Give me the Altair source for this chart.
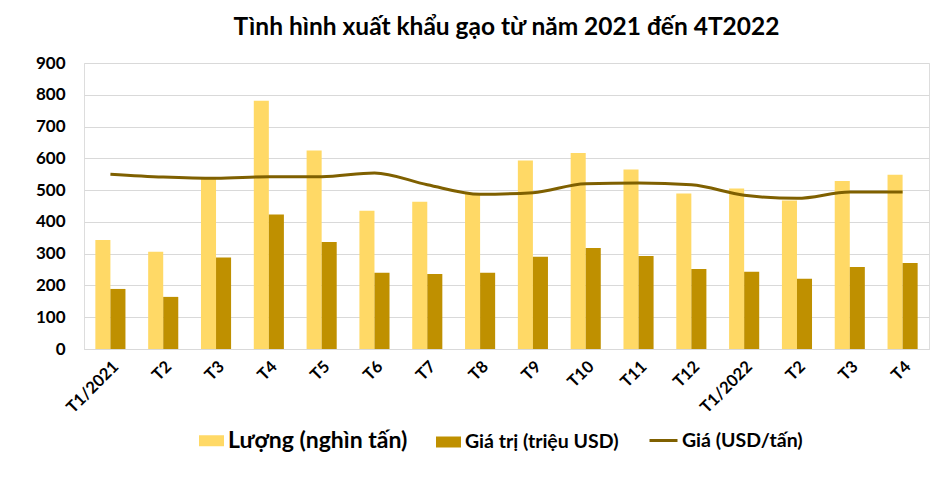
import json
import altair as alt
import pandas as pd

months = ["T1/2021", "T2", "T3", "T4", "T5", "T6", "T7", "T8", "T9", "T10",
          "T11", "T12", "T1/2022", "T2", "T3", "T4"]
luong = [343, 306, 539, 781, 625, 435, 463, 488, 593, 617, 565, 489, 505, 467, 529, 548]
giatri = [189, 164, 288, 423, 337, 240, 236, 240, 290, 318, 293, 252, 243, 221, 258, 271]
gia = [550, 541, 537, 542, 542, 554, 517, 487, 492, 520, 522, 517, 484, 474, 494, 494]
y_ticks = [0, 100, 200, 300, 400, 500, 600, 700, 800, 900]

s_luong = "Lượng (nghìn tấn)"
s_giatri = "Giá trị (triệu USD)"
s_gia = "Giá (USD/tấn)"

FONT = "Lato"

rows = []
for i in range(len(months)):
    rows.append({"idx": i, "series": s_luong, "value": luong[i]})
    rows.append({"idx": i, "series": s_giatri, "value": giatri[i]})
bars_df = pd.DataFrame(rows)
line_df = pd.DataFrame({"idx": list(range(len(months))), "value": gia, "series": [s_gia] * len(months)})

label_expr = json.dumps(months, ensure_ascii=False) + "[datum.value]"

x_enc = alt.X("idx:O", title=None,
              scale=alt.Scale(paddingInner=0.43, paddingOuter=0.215),
              axis=alt.Axis(labelExpr=label_expr, labelAngle=-45, labelFont=FONT,
                            labelFontSize=16.5, labelFontWeight="bold", labelColor="#000000",
                            labelPadding=9, ticks=False, domain=True, domainColor="#D9D9D9",
                            grid=False, labelOverlap=False))
y_enc = alt.Y("value:Q", title=None,
              scale=alt.Scale(domain=[0, 900], nice=False),
              axis=alt.Axis(values=y_ticks, tickCount=10, labelFont=FONT,
                            labelFontSize=17, labelFontWeight="bold", labelColor="#000000",
                            labelPadding=19, ticks=False, domain=False, labelOverlap=False,
                            gridColor="#D9D9D9", gridWidth=1))

label_size = alt.ExprRef("datum.label == '" + s_luong + "' ? 23 : 19.5")

bars = alt.Chart(bars_df).mark_bar().encode(
    x=x_enc,
    y=y_enc,
    xOffset=alt.XOffset("series:N", sort=[s_luong, s_giatri], scale=alt.Scale(paddingInner=0, paddingOuter=0)),
    color=alt.Color("series:N", sort=[s_luong, s_giatri],
                    scale=alt.Scale(domain=[s_luong, s_giatri], range=["#FFD966", "#BF9000"]),
                    legend=alt.Legend(title=None, orient="none", legendX=115, legendY=365,
                                      direction="horizontal",
                                      symbolType="M-1,-0.44L1,-0.44L1,0.44L-1,0.44Z",
                                      symbolSize=625, symbolStrokeWidth=0,
                                      labelFont=FONT, labelFontSize=label_size, labelFontWeight="bold",
                                      labelLimit=400,
                                      labelColor="#000000", columnPadding=28, labelOffset=4)),
)

line = alt.Chart(line_df).mark_line(strokeWidth=3, interpolate="monotone").encode(
    x=x_enc,
    y=y_enc,
    stroke=alt.Stroke("series:N",
                      scale=alt.Scale(domain=[s_gia], range=["#7F6000"]),
                      legend=alt.Legend(title=None, orient="none", legendX=564, legendY=362,
                                        symbolType="stroke", symbolSize=784, symbolStrokeWidth=3,
                                        labelFont=FONT, labelFontSize=19.5, labelFontWeight="bold",
                                        labelLimit=400,
                                        labelColor="#000000", labelOffset=3)),
)

chart = alt.layer(bars, line).resolve_scale(color="independent").properties(
    width=845,
    height=286,
    autosize=alt.AutoSizeParams(type="none"),
    padding={"left": 76, "top": 55, "right": 5, "bottom": 122},
    title=alt.TitleParams("Tình hình xuất khẩu gạo từ năm 2021 đến 4T2022",
                          font=FONT, fontSize=24.5, fontWeight="bold", color="#000000",
                          anchor="middle", offset=14),
).configure_view(stroke=None).configure(background="#FFFFFF")

chart.save("out.html", embed_options={"renderer": "svg", "actions": False})
